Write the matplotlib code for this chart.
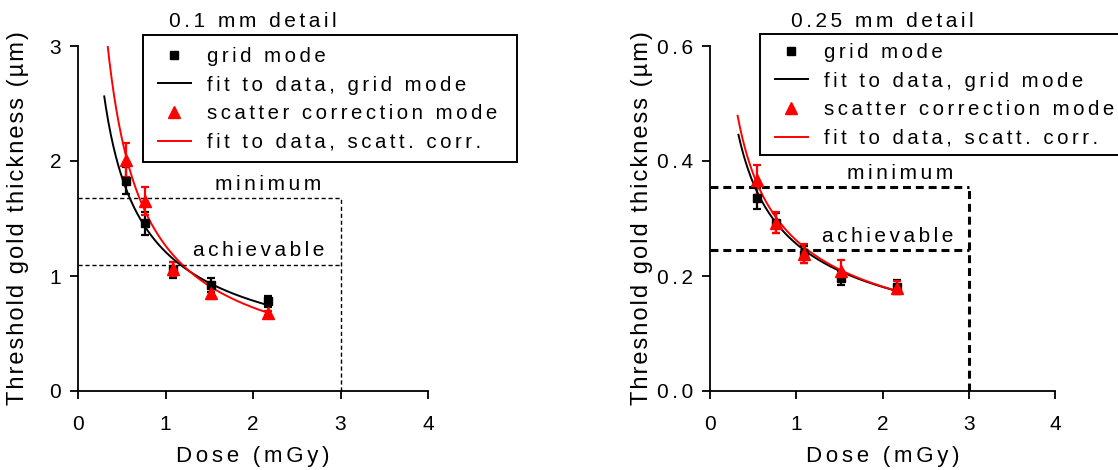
import numpy as np
import matplotlib
matplotlib.use("Agg")
import matplotlib.pyplot as plt
from matplotlib.lines import Line2D
from matplotlib.patches import Rectangle

plt.rcParams['font.family'] = ['Liberation Sans', 'DejaVu Sans']

# dose points (mGy)
dose_grid = [0.55, 0.77, 1.09, 1.52, 2.17]
dose_scat = [0.55, 0.77, 1.09, 1.52, 2.17]

# 0.1 mm detail: threshold thickness (um) and error
thk01_grid = [1.83, 1.46, 1.05, 0.92, 0.78]
err01_grid = [0.12, 0.10, 0.07, 0.06, 0.05]
thk01_scat = [2.01, 1.65, 1.06, 0.85, 0.68]
err01_scat = [0.15, 0.12, 0.06, 0.05, 0.02]

# 0.25 mm detail
thk025_grid = [0.335, 0.292, 0.237, 0.196, 0.181]
err025_grid = [0.018, 0.018, 0.015, 0.012, 0.012]
thk025_scat = [0.367, 0.293, 0.239, 0.209, 0.180]
err025_scat = [0.026, 0.019, 0.016, 0.018, 0.012]

# power-law fits t = a * D^b  (a, b, D_start, D_end)
fit01_grid = (1.21, -0.623, 0.30, 2.17)
fit01_scat = (1.264, -0.80, 0.30, 2.17)
fit025_grid = (0.256, -0.50, 0.33, 2.17)
fit025_scat = (0.262, -0.529, 0.32, 2.17)

# reference levels (minimum, achievable) and dose limit
levels01 = (1.68, 1.10)
levels025 = (0.354, 0.245)
dose_limit = 3.0

legend_labels = ['grid mode', 'fit to data, grid mode',
                 'scatter correction mode', 'fit to data, scatt. corr.']

W, H = 1118, 470
SP = '\u200a'


def spaced(s, n=1):
    return (SP * n).join(s)


def fit_curve(ax, fit, color):
    a, b, d0, d1 = fit
    d = np.linspace(d0, d1, 200)
    ax.plot(d, a * d ** b, color=color, lw=1.4)


def panel(ax, title, g, ge, s, se, fg, fs, levels, ymax, yticks, ytlabels,
          line_kw, min_x, ach_x, ylabelpad, box, row_off):
    ax.errorbar(dose_grid, g, yerr=ge, fmt='s', color='black', ms=6,
                capsize=3, elinewidth=1.6, capthick=1.6)
    ax.errorbar(dose_scat, s, yerr=se, fmt='^', color='red', ms=8,
                capsize=3, elinewidth=1.6, capthick=1.6)
    fit_curve(ax, fg, 'black')
    fit_curve(ax, fs, 'red')

    lo_min, lo_ach = levels
    ax.plot([0, dose_limit], [lo_min, lo_min], color='black', **line_kw)
    ax.plot([0, dose_limit], [lo_ach, lo_ach], color='black', **line_kw)
    ax.plot([dose_limit, dose_limit], [0, lo_min], color='black', **line_kw)
    ax.text(min_x, lo_min + ymax * 0.012, spaced('minimum', 2), ha='center',
            va='bottom', fontsize=15)
    ax.text(ach_x, lo_ach + ymax * 0.012, spaced('achievable', 2), ha='center',
            va='bottom', fontsize=15)

    ax.set_xlim(0, 4)
    ax.set_ylim(0, ymax)
    ax.set_xticks([0, 1, 2, 3, 4])
    ax.set_xticklabels([spaced(str(v)) for v in [0, 1, 2, 3, 4]])
    ax.set_yticks(yticks)
    ax.set_yticklabels([spaced(t, 2) for t in ytlabels])
    ax.tick_params(axis='x', labelsize=15, width=1.3, length=6,
                   direction='out', pad=11)
    ax.tick_params(axis='y', labelsize=15, width=1.3, length=6,
                   direction='out', pad=6)
    for side in ['top', 'right']:
        ax.spines[side].set_visible(False)
    for side in ['left', 'bottom']:
        ax.spines[side].set_linewidth(1.3)

    ax.set_xlabel(spaced('Dose (mGy)', 2), fontsize=16, labelpad=9)
    ax.set_ylabel(spaced('Threshold gold thickness (\u00b5m)', 1), fontsize=17,
                  labelpad=ylabelpad)
    ax.set_title(spaced(title, 2), fontsize=15, pad=14)

    # legend box drawn in figure pixels, entries placed inside it
    x0, y0, x1, y1 = box
    fig.patches.append(Rectangle((x0 / W, 1 - y1 / H), (x1 - x0) / W,
                                 (y1 - y0) / H, transform=fig.transFigure,
                                 fill=True, facecolor='white',
                                 edgecolor='black', lw=1.4, zorder=5))
    handles = [
        Line2D([], [], ls='none', marker='s', color='black', ms=6),
        Line2D([], [], color='black', lw=1.4),
        Line2D([], [], ls='none', marker='^', color='red', ms=8),
        Line2D([], [], color='red', lw=1.4),
    ]
    leg = fig.legend(handles, [spaced(t, 2) for t in legend_labels],
                     loc='upper left',
                     bbox_to_anchor=((x0 + 15) / W, 1 - (y0 + row_off) / H),
                     borderaxespad=0, borderpad=0, frameon=False,
                     fontsize=14.7, handlelength=1.6, labelspacing=0.47,
                     handletextpad=0.8)
    leg.set_zorder(6)


fig = plt.figure(figsize=(W / 100, H / 100), dpi=100)
ax1 = fig.add_axes([78 / W, 79 / H, 350 / W, 345 / H])
ax2 = fig.add_axes([710 / W, 79 / H, 345 / W, 345 / H])

panel(ax1, '0.1 mm detail', thk01_grid, err01_grid, thk01_scat, err01_scat,
      fit01_grid, fit01_scat, levels01, 3.0, [0, 1, 2, 3],
      ['0', '1', '2', '3'],
      dict(lw=1.0, dashes=(3, 2)), 2.17, 2.06, 15,
      (143, 35, 517, 162), 12)
panel(ax2, '0.25 mm detail', thk025_grid, err025_grid, thk025_scat, err025_scat,
      fit025_grid, fit025_scat, levels025, 0.6, [0, 0.2, 0.4, 0.6],
      ['0.0', '0.2', '0.4', '0.6'],
      dict(lw=2.2, dashes=(2.6, 1.6)), 2.2, 2.06, 3,
      (760, 34, 1135, 155), 9)

fig.savefig('out.png', dpi=100)
